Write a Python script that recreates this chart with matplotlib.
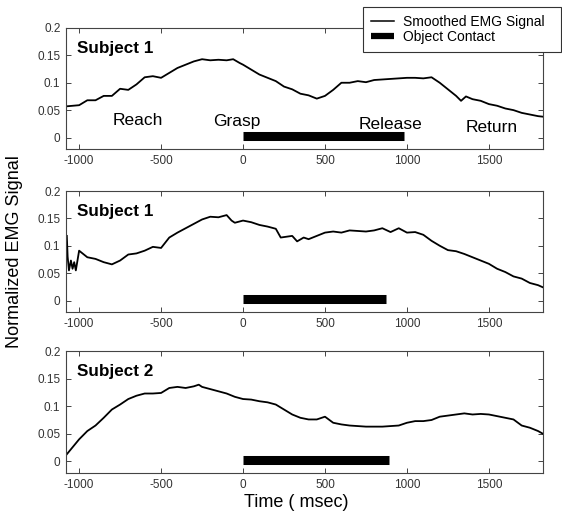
import matplotlib
matplotlib.use('Agg')

import matplotlib.pyplot as plt
from matplotlib.lines import Line2D
import numpy as np

plt.rcParams['font.family'] = ['Liberation Sans', 'DejaVu Sans']
plt.rcParams['axes.unicode_minus'] = False

# time axis (msec) and smoothed EMG for each panel
t1 = [-1075, -1000, -950, -900, -850, -800, -750, -700, -650, -600, -550, -500,
      -450, -400, -350, -300, -250, -200, -150, -100, -60, -20, 0, 50, 100, 150,
      200, 250, 300, 350, 400, 450, 500, 550, 600, 650, 700, 750, 800, 850, 900,
      950, 1000, 1050, 1100, 1150, 1200, 1250, 1300, 1330, 1360, 1400, 1450,
      1500, 1550, 1600, 1650, 1700, 1750, 1800, 1830]
emg1 = [0.057, 0.059, 0.068, 0.068, 0.076, 0.076, 0.089, 0.087, 0.097, 0.110,
        0.112, 0.109, 0.118, 0.127, 0.133, 0.139, 0.143, 0.141, 0.142, 0.141,
        0.143, 0.136, 0.133, 0.124, 0.115, 0.109, 0.103, 0.093, 0.088, 0.080,
        0.077, 0.071, 0.076, 0.087, 0.100, 0.100, 0.103, 0.101, 0.105, 0.106,
        0.107, 0.108, 0.109, 0.109, 0.108, 0.110, 0.100, 0.088, 0.076, 0.067,
        0.075, 0.070, 0.067, 0.061, 0.058, 0.053, 0.050, 0.045, 0.042, 0.039,
        0.038]

t2 = [-1075, -1070, -1062, -1050, -1040, -1030, -1020, -1000, -950, -900, -850,
      -800, -750, -700, -650, -600, -550, -500, -450, -400, -350, -300, -250,
      -200, -150, -100, -70, -50, 0, 50, 100, 150, 200, 230, 300, 330, 370, 400,
      450, 500, 550, 600, 650, 700, 750, 800, 850, 900, 950, 1000, 1050, 1100,
      1150, 1200, 1250, 1300, 1350, 1400, 1450, 1500, 1550, 1600, 1650, 1700,
      1750, 1800, 1830]
emg2 = [0.118, 0.080, 0.055, 0.073, 0.058, 0.070, 0.055, 0.091, 0.079, 0.076,
        0.070, 0.066, 0.073, 0.084, 0.086, 0.091, 0.098, 0.096, 0.115, 0.124,
        0.132, 0.140, 0.148, 0.153, 0.152, 0.156, 0.146, 0.142, 0.146, 0.143,
        0.138, 0.135, 0.131, 0.115, 0.118, 0.108, 0.115, 0.112, 0.118, 0.124,
        0.126, 0.124, 0.128, 0.127, 0.126, 0.128, 0.132, 0.125, 0.132, 0.124,
        0.125, 0.120, 0.109, 0.100, 0.092, 0.090, 0.085, 0.079, 0.073, 0.067,
        0.058, 0.052, 0.044, 0.040, 0.032, 0.028, 0.024]

t3 = [-1075, -1000, -950, -900, -850, -800, -750, -700, -650, -600, -550, -500,
      -450, -400, -350, -300, -270, -250, -200, -150, -100, -50, 0, 50, 100, 150,
      200, 250, 300, 350, 400, 450, 500, 550, 600, 650, 700, 750, 800, 850, 900,
      950, 1000, 1050, 1100, 1150, 1200, 1250, 1300, 1350, 1400, 1450, 1500,
      1550, 1600, 1650, 1700, 1750, 1800, 1830]
emg3 = [0.013, 0.040, 0.055, 0.065, 0.079, 0.094, 0.103, 0.113, 0.119, 0.123,
        0.123, 0.124, 0.133, 0.135, 0.133, 0.136, 0.139, 0.135, 0.131, 0.127,
        0.123, 0.117, 0.113, 0.112, 0.109, 0.107, 0.103, 0.094, 0.085, 0.079,
        0.076, 0.076, 0.081, 0.070, 0.067, 0.065, 0.064, 0.063, 0.063, 0.063,
        0.064, 0.065, 0.070, 0.073, 0.073, 0.075, 0.081, 0.083, 0.085, 0.087,
        0.085, 0.086, 0.085, 0.082, 0.079, 0.076, 0.065, 0.061, 0.055, 0.050]

contact_end = [980, 870, 890]   # end of object contact (msec)
subjects = ['Subject 1', 'Subject 1', 'Subject 2']
phases = ['Reach', 'Grasp', 'Release', 'Return']
phase_pos = [(-640, 0.031), (-40, 0.029), (900, 0.023), (1520, 0.018)]

xticks = [-1000, -500, 0, 500, 1000, 1500]
yticks = [0, 0.05, 0.1, 0.15, 0.2]
ytick_labels = ['0', '0.05', '0.1', '0.15', '0.2']

W, H = 562, 517
fig = plt.figure(figsize=(W / 100, H / 100), dpi=100)

# panel boxes in pixels: (top, bottom)
boxes = [(28, 149), (191, 312), (351, 473)]
left, right = 66, 543
series = [(t1, emg1), (t2, emg2), (t3, emg3)]

for i, ((top, bot), (t, emg)) in enumerate(zip(boxes, series)):
    ax = fig.add_axes([left / W, 1 - bot / H, (right - left) / W, (bot - top) / H])
    ax.plot(t, emg, color='black', lw=1.3)
    ax.plot([0, contact_end[i]], [0.003, 0.003], color='black', lw=6.5,
            solid_capstyle='butt')
    ax.set_xlim(-1080, 1830)
    ax.set_ylim(-0.021, 0.2)
    ax.set_xticks(xticks)
    ax.set_yticks(yticks)
    ax.set_yticklabels(ytick_labels)
    ax.tick_params(direction='in', top=True, right=True, length=3.5, width=0.7,
                   labelsize=8.5, labelcolor='#333333', pad=4, color='#444444')
    for sp in ax.spines.values():
        sp.set_linewidth(0.8)
        sp.set_color('#444444')
    ax.text(-1012, 0.163, subjects[i], fontsize=12.3, fontweight='bold', va='center')
    if i == 0:
        for name, (px, py) in zip(phases, phase_pos):
            ax.text(px, py, name, fontsize=12.5, ha='center', va='center')

fig.text(0.025, 0.513, 'Normalized EMG Signal', rotation=90, fontsize=13,
         ha='center', va='center')
fig.text(0.528, 0.029, 'Time ( msec)', fontsize=13, ha='center', va='center')

handles = [Line2D([], [], color='black', lw=1.1),
           Line2D([], [], color='black', lw=4.5, solid_capstyle='butt')]
leg = fig.legend(handles, ['Smoothed EMG Signal', 'Object Contact'],
                 loc='upper left',
                 bbox_to_anchor=(363 / W, 1 - 7 / H - 0.01, 198 / W, 0.01),
                 mode='expand', fontsize=10, frameon=True, fancybox=False,
                 borderaxespad=0, handlelength=1.65, labelspacing=0.1,
                 borderpad=0.55, handletextpad=0.7, framealpha=1)
leg.get_frame().set_edgecolor('#333333')
leg.get_frame().set_linewidth(0.8)

fig.savefig('out.png', dpi=100)
